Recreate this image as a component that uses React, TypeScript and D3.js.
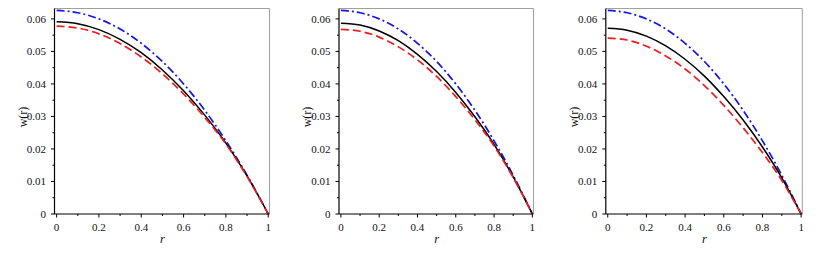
import * as d3 from 'd3';

const rValues = [0, 0.1, 0.2, 0.3, 0.4, 0.5, 0.6, 0.7, 0.8, 0.9, 1];

// blue dash-dot curve (same in all three panels)
const blueCurve = [0.0626, 0.0619, 0.06, 0.0569, 0.0525, 0.0469, 0.04, 0.0319, 0.0225, 0.0119, 0];

const blackLeft = [0.0591, 0.0585, 0.0567, 0.0537, 0.0496, 0.0443, 0.0379, 0.0304, 0.0218, 0.0117, 0];
const redLeft = [0.0578, 0.0572, 0.0554, 0.0524, 0.0483, 0.0431, 0.0369, 0.0297, 0.0215, 0.0115, 0];

const blackMid = [0.0587, 0.0581, 0.0563, 0.0533, 0.0491, 0.0438, 0.0374, 0.0299, 0.0214, 0.0114, 0];
const redMid = [0.0568, 0.0562, 0.0544, 0.0514, 0.0474, 0.0423, 0.0361, 0.029, 0.0209, 0.0112, 0];

const blackRight = [0.0571, 0.0565, 0.0547, 0.0517, 0.0476, 0.0424, 0.0361, 0.0289, 0.0206, 0.0111, 0];
const redRight = [0.0541, 0.0535, 0.0516, 0.0486, 0.0446, 0.0395, 0.0334, 0.0265, 0.0189, 0.0103, 0];

const xTicks = [0, 0.2, 0.4, 0.6, 0.8, 1];
const xTickLabels = ['0', '0.2', '0.4', '0.6', '0.8', '1'];
const yTicks = [0, 0.01, 0.02, 0.03, 0.04, 0.05, 0.06];
const yTickLabels = ['0', '0.01', '0.02', '0.03', '0.04', '0.05', '0.06'];

interface PanelLayout {
  left: number;
  right: number;
  black: number[];
  red: number[];
}

const panels: PanelLayout[] = [
  { left: 54.5, right: 269.5, black: blackLeft, red: redLeft },
  { left: 339, right: 533.5, black: blackMid, red: redMid },
  { left: 605.8, right: 802.3, black: blackRight, red: redRight }
];

const top = 8.5;
const bottom = 214;
const font = 'Liberation Serif, Times New Roman, serif';

const Panel: React.FC<{ p: PanelLayout }> = ({ p }) => {
  const x = d3.scaleLinear().domain([-0.01, 1.006]).range([p.left, p.right]);
  const y = d3.scaleLinear().domain([0, 0.0632]).range([bottom, top]);

  const line = d3
    .line<number>()
    .x((_, i) => x(rValues[i]))
    .y(d => y(d))
    .curve(d3.curveMonotoneX);

  const minorX = d3.range(0.1, 1, 0.2);
  const minorY = d3.range(0.005, 0.062, 0.01);

  return (
    <g>
      {/* frame: light top/right, black axes */}
      <line x1={p.left} x2={p.right} y1={top} y2={top} stroke="#a0a0a0" strokeWidth={1} />
      <line x1={p.right} x2={p.right} y1={top} y2={bottom} stroke="#a0a0a0" strokeWidth={1} />

      <path d={line(blueCurve) || ''} fill="none" stroke="#1414e6" strokeWidth={1.7} strokeDasharray="8 3 2 3" />
      <path d={line(p.black) || ''} fill="none" stroke="#000" strokeWidth={1.5} />
      <path d={line(p.red) || ''} fill="none" stroke="#ee1c1c" strokeWidth={1.7} strokeDasharray="8 4" />

      <line x1={p.left} x2={p.right} y1={bottom} y2={bottom} stroke="#000" strokeWidth={1.2} />
      <line x1={p.left} x2={p.left} y1={top} y2={bottom} stroke="#000" strokeWidth={1.2} />

      {xTicks.map((t, i) => (
        <g key={'xt' + i}>
          <line x1={x(t)} x2={x(t)} y1={bottom} y2={bottom + 3.5} stroke="#000" />
          <text x={x(t)} y={230.5} textAnchor="middle" fontSize={11} fontFamily={font} fill="#111">
            {xTickLabels[i]}
          </text>
        </g>
      ))}
      {minorX.map((t, i) => (
        <line key={'xm' + i} x1={x(t)} x2={x(t)} y1={bottom} y2={bottom + 2} stroke="#000" />
      ))}

      {yTicks.map((t, i) => (
        <g key={'yt' + i}>
          <line x1={p.left - 3.5} x2={p.left} y1={y(t)} y2={y(t)} stroke="#000" />
          <text
            x={p.left - 8.5}
            y={y(t) + 3.7}
            textAnchor="end"
            fontSize={11}
            fontFamily={font}
            fill="#111"
          >
            {yTickLabels[i]}
          </text>
        </g>
      ))}
      {minorY.map((t, i) => (
        <line key={'ym' + i} x1={p.left - 2} x2={p.left} y1={y(t)} y2={y(t)} stroke="#000" />
      ))}

      <text
        x={(x(0) + x(1)) / 2}
        y={242.5}
        textAnchor="middle"
        fontSize={12.5}
        fontStyle="italic"
        fontFamily={font}
        fill="#111"
      >
        r
      </text>
      <text
        transform={`translate(${p.left - 28}, 117) rotate(-90)`}
        textAnchor="middle"
        fontSize={12}
        fontFamily={font}
        fill="#111"
      >
        w(r)
      </text>
    </g>
  );
};

export default function App() {
  return (
    <svg
      width={839}
      height={255}
      style={{ position: 'absolute', left: 0, top: 0, background: '#fff' }}
    >
      {panels.map((p, i) => (
        <Panel key={i} p={p} />
      ))}
    </svg>
  );
}
